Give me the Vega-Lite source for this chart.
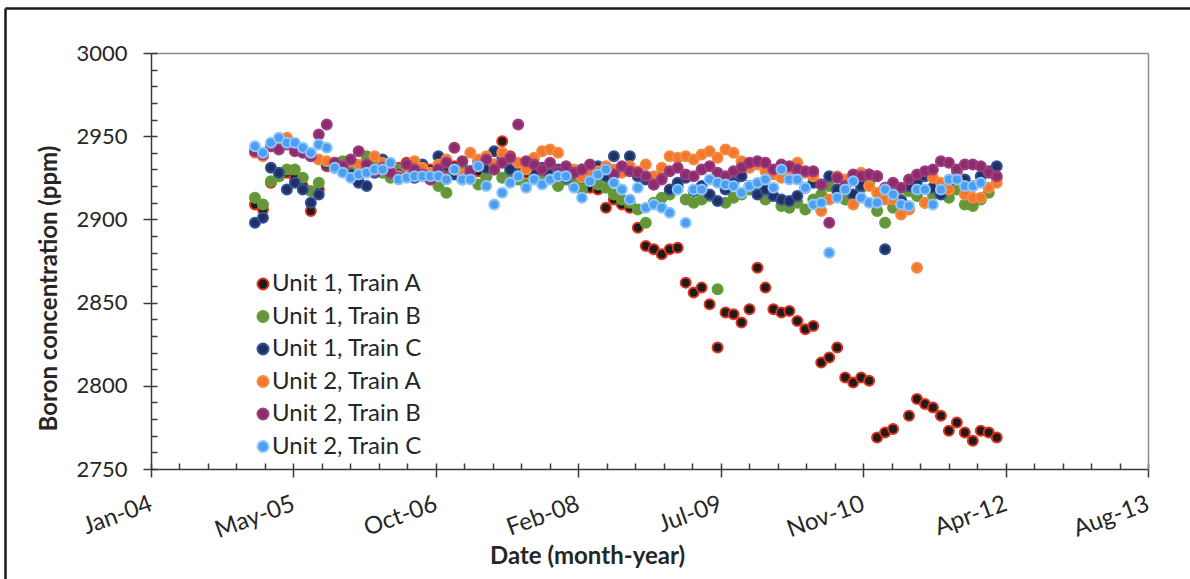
{
  "$schema": "https://vega.github.io/schema/vega-lite/v6.json",
  "width": 1185,
  "height": 571,
  "autosize": {"type": "none"},
  "padding": {"left": 5, "top": 8, "right": 0, "bottom": 0},
  "background": "#ffffff",
  "data": {"values": [
    {"d":"2005-01-13","s":"Unit 1, Train A","v":2909},{"d":"2005-02-10","s":"Unit 1, Train A","v":2906},{"d":"2005-03-10","s":"Unit 1, Train A","v":2922},{"d":"2005-04-07","s":"Unit 1, Train A","v":2926},{"d":"2005-05-05","s":"Unit 1, Train A","v":2928},{"d":"2005-06-02","s":"Unit 1, Train A","v":2925},{"d":"2005-06-30","s":"Unit 1, Train A","v":2920},{"d":"2005-07-28","s":"Unit 1, Train A","v":2905},{"d":"2005-08-25","s":"Unit 1, Train A","v":2918},{"d":"2005-09-22","s":"Unit 1, Train A","v":2932},
    {"d":"2005-10-20","s":"Unit 1, Train A","v":2934},{"d":"2005-11-17","s":"Unit 1, Train A","v":2930},{"d":"2005-12-15","s":"Unit 1, Train A","v":2928},{"d":"2006-01-12","s":"Unit 1, Train A","v":2926},{"d":"2006-02-09","s":"Unit 1, Train A","v":2930},{"d":"2006-03-09","s":"Unit 1, Train A","v":2933},{"d":"2006-04-06","s":"Unit 1, Train A","v":2929},{"d":"2006-05-04","s":"Unit 1, Train A","v":2927},{"d":"2006-06-01","s":"Unit 1, Train A","v":2931},{"d":"2006-06-29","s":"Unit 1, Train A","v":2934},
    {"d":"2006-07-27","s":"Unit 1, Train A","v":2929},{"d":"2006-08-24","s":"Unit 1, Train A","v":2926},{"d":"2006-09-21","s":"Unit 1, Train A","v":2930},{"d":"2006-10-19","s":"Unit 1, Train A","v":2928},{"d":"2006-11-16","s":"Unit 1, Train A","v":2925},{"d":"2006-12-14","s":"Unit 1, Train A","v":2932},{"d":"2007-01-11","s":"Unit 1, Train A","v":2930},{"d":"2007-02-08","s":"Unit 1, Train A","v":2927},{"d":"2007-03-08","s":"Unit 1, Train A","v":2929},{"d":"2007-04-05","s":"Unit 1, Train A","v":2926},
    {"d":"2007-05-03","s":"Unit 1, Train A","v":2933},{"d":"2007-05-31","s":"Unit 1, Train A","v":2947},{"d":"2007-06-28","s":"Unit 1, Train A","v":2938},{"d":"2007-07-26","s":"Unit 1, Train A","v":2930},{"d":"2007-08-23","s":"Unit 1, Train A","v":2928},{"d":"2007-09-20","s":"Unit 1, Train A","v":2925},{"d":"2007-10-18","s":"Unit 1, Train A","v":2929},{"d":"2007-11-15","s":"Unit 1, Train A","v":2931},{"d":"2007-12-13","s":"Unit 1, Train A","v":2927},{"d":"2008-01-10","s":"Unit 1, Train A","v":2924},
    {"d":"2008-02-07","s":"Unit 1, Train A","v":2921},{"d":"2008-03-06","s":"Unit 1, Train A","v":2920},{"d":"2008-04-03","s":"Unit 1, Train A","v":2919},{"d":"2008-05-01","s":"Unit 1, Train A","v":2918},{"d":"2008-05-29","s":"Unit 1, Train A","v":2907},{"d":"2008-06-26","s":"Unit 1, Train A","v":2912},{"d":"2008-07-24","s":"Unit 1, Train A","v":2909},{"d":"2008-08-21","s":"Unit 1, Train A","v":2907},{"d":"2008-09-18","s":"Unit 1, Train A","v":2895},{"d":"2008-10-16","s":"Unit 1, Train A","v":2884},
    {"d":"2008-11-13","s":"Unit 1, Train A","v":2882},{"d":"2008-12-11","s":"Unit 1, Train A","v":2879},{"d":"2009-01-08","s":"Unit 1, Train A","v":2882},{"d":"2009-02-05","s":"Unit 1, Train A","v":2883},{"d":"2009-03-05","s":"Unit 1, Train A","v":2862},{"d":"2009-04-02","s":"Unit 1, Train A","v":2856},{"d":"2009-04-30","s":"Unit 1, Train A","v":2859},{"d":"2009-05-28","s":"Unit 1, Train A","v":2849},{"d":"2009-06-25","s":"Unit 1, Train A","v":2823},{"d":"2009-07-23","s":"Unit 1, Train A","v":2844},
    {"d":"2009-08-20","s":"Unit 1, Train A","v":2843},{"d":"2009-09-17","s":"Unit 1, Train A","v":2838},{"d":"2009-10-15","s":"Unit 1, Train A","v":2846},{"d":"2009-11-12","s":"Unit 1, Train A","v":2871},{"d":"2009-12-10","s":"Unit 1, Train A","v":2859},{"d":"2010-01-07","s":"Unit 1, Train A","v":2846},{"d":"2010-02-04","s":"Unit 1, Train A","v":2844},{"d":"2010-03-04","s":"Unit 1, Train A","v":2845},{"d":"2010-04-01","s":"Unit 1, Train A","v":2839},{"d":"2010-04-29","s":"Unit 1, Train A","v":2834},
    {"d":"2010-05-27","s":"Unit 1, Train A","v":2836},{"d":"2010-06-24","s":"Unit 1, Train A","v":2814},{"d":"2010-07-22","s":"Unit 1, Train A","v":2817},{"d":"2010-08-19","s":"Unit 1, Train A","v":2823},{"d":"2010-09-16","s":"Unit 1, Train A","v":2805},{"d":"2010-10-14","s":"Unit 1, Train A","v":2802},{"d":"2010-11-11","s":"Unit 1, Train A","v":2805},{"d":"2010-12-09","s":"Unit 1, Train A","v":2803},{"d":"2011-01-06","s":"Unit 1, Train A","v":2769},{"d":"2011-02-03","s":"Unit 1, Train A","v":2772},
    {"d":"2011-03-03","s":"Unit 1, Train A","v":2774},{"d":"2011-04-28","s":"Unit 1, Train A","v":2782},{"d":"2011-05-26","s":"Unit 1, Train A","v":2792},{"d":"2011-06-23","s":"Unit 1, Train A","v":2789},{"d":"2011-07-21","s":"Unit 1, Train A","v":2787},{"d":"2011-08-18","s":"Unit 1, Train A","v":2782},{"d":"2011-09-15","s":"Unit 1, Train A","v":2773},{"d":"2011-10-13","s":"Unit 1, Train A","v":2778},{"d":"2011-11-10","s":"Unit 1, Train A","v":2772},
    {"d":"2011-12-08","s":"Unit 1, Train A","v":2767},{"d":"2012-01-05","s":"Unit 1, Train A","v":2773},{"d":"2012-02-02","s":"Unit 1, Train A","v":2772},{"d":"2012-03-01","s":"Unit 1, Train A","v":2769},

    {"d":"2005-01-13","s":"Unit 1, Train B","v":2913},{"d":"2005-02-10","s":"Unit 1, Train B","v":2909},{"d":"2005-03-10","s":"Unit 1, Train B","v":2923},{"d":"2005-04-07","s":"Unit 1, Train B","v":2926},{"d":"2005-05-05","s":"Unit 1, Train B","v":2930},{"d":"2005-06-02","s":"Unit 1, Train B","v":2930},{"d":"2005-06-30","s":"Unit 1, Train B","v":2925},{"d":"2005-07-28","s":"Unit 1, Train B","v":2917},{"d":"2005-08-25","s":"Unit 1, Train B","v":2922},{"d":"2005-09-22","s":"Unit 1, Train B","v":2933},
    {"d":"2005-10-20","s":"Unit 1, Train B","v":2932},{"d":"2005-11-17","s":"Unit 1, Train B","v":2935},{"d":"2005-12-15","s":"Unit 1, Train B","v":2929},{"d":"2006-01-12","s":"Unit 1, Train B","v":2926},{"d":"2006-02-09","s":"Unit 1, Train B","v":2938},{"d":"2006-03-09","s":"Unit 1, Train B","v":2931},{"d":"2006-04-06","s":"Unit 1, Train B","v":2928},{"d":"2006-05-04","s":"Unit 1, Train B","v":2925},{"d":"2006-06-01","s":"Unit 1, Train B","v":2930},{"d":"2006-06-29","s":"Unit 1, Train B","v":2933},
    {"d":"2006-07-27","s":"Unit 1, Train B","v":2927},{"d":"2006-08-24","s":"Unit 1, Train B","v":2930},{"d":"2006-09-21","s":"Unit 1, Train B","v":2924},{"d":"2006-10-19","s":"Unit 1, Train B","v":2920},{"d":"2006-11-16","s":"Unit 1, Train B","v":2916},{"d":"2006-12-14","s":"Unit 1, Train B","v":2928},{"d":"2007-01-11","s":"Unit 1, Train B","v":2931},{"d":"2007-02-08","s":"Unit 1, Train B","v":2925},{"d":"2007-03-08","s":"Unit 1, Train B","v":2921},{"d":"2007-04-05","s":"Unit 1, Train B","v":2926},
    {"d":"2007-05-03","s":"Unit 1, Train B","v":2930},{"d":"2007-05-31","s":"Unit 1, Train B","v":2925},{"d":"2007-06-28","s":"Unit 1, Train B","v":2928},{"d":"2007-07-26","s":"Unit 1, Train B","v":2924},{"d":"2007-08-23","s":"Unit 1, Train B","v":2921},{"d":"2007-09-20","s":"Unit 1, Train B","v":2926},{"d":"2007-10-18","s":"Unit 1, Train B","v":2923},{"d":"2007-11-15","s":"Unit 1, Train B","v":2928},{"d":"2007-12-13","s":"Unit 1, Train B","v":2920},{"d":"2008-01-10","s":"Unit 1, Train B","v":2924},
    {"d":"2008-02-07","s":"Unit 1, Train B","v":2922},{"d":"2008-03-06","s":"Unit 1, Train B","v":2918},{"d":"2008-04-03","s":"Unit 1, Train B","v":2925},{"d":"2008-05-01","s":"Unit 1, Train B","v":2921},{"d":"2008-05-29","s":"Unit 1, Train B","v":2919},{"d":"2008-06-26","s":"Unit 1, Train B","v":2915},{"d":"2008-07-24","s":"Unit 1, Train B","v":2912},{"d":"2008-08-21","s":"Unit 1, Train B","v":2910},{"d":"2008-09-18","s":"Unit 1, Train B","v":2906},{"d":"2008-10-16","s":"Unit 1, Train B","v":2898},
    {"d":"2008-11-13","s":"Unit 1, Train B","v":2910},{"d":"2008-12-11","s":"Unit 1, Train B","v":2913},{"d":"2009-01-08","s":"Unit 1, Train B","v":2915},{"d":"2009-02-05","s":"Unit 1, Train B","v":2920},{"d":"2009-03-05","s":"Unit 1, Train B","v":2912},{"d":"2009-04-02","s":"Unit 1, Train B","v":2910},{"d":"2009-04-30","s":"Unit 1, Train B","v":2912},{"d":"2009-05-28","s":"Unit 1, Train B","v":2914},{"d":"2009-06-25","s":"Unit 1, Train B","v":2858},{"d":"2009-07-23","s":"Unit 1, Train B","v":2910},
    {"d":"2009-08-20","s":"Unit 1, Train B","v":2913},{"d":"2009-09-17","s":"Unit 1, Train B","v":2915},{"d":"2009-10-15","s":"Unit 1, Train B","v":2918},{"d":"2009-11-12","s":"Unit 1, Train B","v":2916},{"d":"2009-12-10","s":"Unit 1, Train B","v":2912},{"d":"2010-01-07","s":"Unit 1, Train B","v":2914},{"d":"2010-02-04","s":"Unit 1, Train B","v":2908},{"d":"2010-03-04","s":"Unit 1, Train B","v":2907},{"d":"2010-04-01","s":"Unit 1, Train B","v":2910},{"d":"2010-04-29","s":"Unit 1, Train B","v":2906},
    {"d":"2010-05-27","s":"Unit 1, Train B","v":2912},{"d":"2010-06-24","s":"Unit 1, Train B","v":2915},{"d":"2010-07-22","s":"Unit 1, Train B","v":2920},{"d":"2010-08-19","s":"Unit 1, Train B","v":2917},{"d":"2010-09-16","s":"Unit 1, Train B","v":2912},{"d":"2010-10-14","s":"Unit 1, Train B","v":2915},{"d":"2010-11-11","s":"Unit 1, Train B","v":2919},{"d":"2010-12-09","s":"Unit 1, Train B","v":2922},{"d":"2011-01-06","s":"Unit 1, Train B","v":2905},{"d":"2011-02-03","s":"Unit 1, Train B","v":2898},
    {"d":"2011-03-03","s":"Unit 1, Train B","v":2907},{"d":"2011-03-31","s":"Unit 1, Train B","v":2912},{"d":"2011-04-28","s":"Unit 1, Train B","v":2917},{"d":"2011-05-26","s":"Unit 1, Train B","v":2914},{"d":"2011-06-23","s":"Unit 1, Train B","v":2910},{"d":"2011-07-21","s":"Unit 1, Train B","v":2915},{"d":"2011-08-18","s":"Unit 1, Train B","v":2920},{"d":"2011-09-15","s":"Unit 1, Train B","v":2913},{"d":"2011-10-13","s":"Unit 1, Train B","v":2918},{"d":"2011-11-10","s":"Unit 1, Train B","v":2909},
    {"d":"2011-12-08","s":"Unit 1, Train B","v":2908},{"d":"2012-01-05","s":"Unit 1, Train B","v":2912},{"d":"2012-02-02","s":"Unit 1, Train B","v":2916},{"d":"2012-03-01","s":"Unit 1, Train B","v":2925},

    {"d":"2005-01-13","s":"Unit 1, Train C","v":2898},{"d":"2005-02-10","s":"Unit 1, Train C","v":2901},{"d":"2005-03-10","s":"Unit 1, Train C","v":2931},{"d":"2005-04-07","s":"Unit 1, Train C","v":2928},{"d":"2005-05-05","s":"Unit 1, Train C","v":2918},{"d":"2005-06-02","s":"Unit 1, Train C","v":2922},{"d":"2005-06-30","s":"Unit 1, Train C","v":2918},{"d":"2005-07-28","s":"Unit 1, Train C","v":2910},{"d":"2005-08-25","s":"Unit 1, Train C","v":2915},{"d":"2005-09-22","s":"Unit 1, Train C","v":2933},
    {"d":"2005-10-20","s":"Unit 1, Train C","v":2931},{"d":"2005-11-17","s":"Unit 1, Train C","v":2929},{"d":"2005-12-15","s":"Unit 1, Train C","v":2927},{"d":"2006-01-12","s":"Unit 1, Train C","v":2922},{"d":"2006-02-09","s":"Unit 1, Train C","v":2920},{"d":"2006-03-09","s":"Unit 1, Train C","v":2928},{"d":"2006-04-06","s":"Unit 1, Train C","v":2936},{"d":"2006-05-04","s":"Unit 1, Train C","v":2932},{"d":"2006-06-01","s":"Unit 1, Train C","v":2927},{"d":"2006-06-29","s":"Unit 1, Train C","v":2930},
    {"d":"2006-07-27","s":"Unit 1, Train C","v":2925},{"d":"2006-08-24","s":"Unit 1, Train C","v":2933},{"d":"2006-09-21","s":"Unit 1, Train C","v":2928},{"d":"2006-10-19","s":"Unit 1, Train C","v":2938},{"d":"2006-11-16","s":"Unit 1, Train C","v":2932},{"d":"2006-12-14","s":"Unit 1, Train C","v":2927},{"d":"2007-01-11","s":"Unit 1, Train C","v":2924},{"d":"2007-02-08","s":"Unit 1, Train C","v":2929},{"d":"2007-03-08","s":"Unit 1, Train C","v":2935},{"d":"2007-04-05","s":"Unit 1, Train C","v":2931},
    {"d":"2007-05-03","s":"Unit 1, Train C","v":2941},{"d":"2007-05-31","s":"Unit 1, Train C","v":2936},{"d":"2007-06-28","s":"Unit 1, Train C","v":2930},{"d":"2007-07-26","s":"Unit 1, Train C","v":2927},{"d":"2007-08-23","s":"Unit 1, Train C","v":2933},{"d":"2007-09-20","s":"Unit 1, Train C","v":2929},{"d":"2007-10-18","s":"Unit 1, Train C","v":2931},{"d":"2007-11-15","s":"Unit 1, Train C","v":2927},{"d":"2007-12-13","s":"Unit 1, Train C","v":2930},{"d":"2008-01-10","s":"Unit 1, Train C","v":2925},
    {"d":"2008-02-07","s":"Unit 1, Train C","v":2928},{"d":"2008-03-06","s":"Unit 1, Train C","v":2930},{"d":"2008-04-03","s":"Unit 1, Train C","v":2930},{"d":"2008-05-01","s":"Unit 1, Train C","v":2932},{"d":"2008-05-29","s":"Unit 1, Train C","v":2926},{"d":"2008-06-26","s":"Unit 1, Train C","v":2938},{"d":"2008-07-24","s":"Unit 1, Train C","v":2929},{"d":"2008-08-21","s":"Unit 1, Train C","v":2938},{"d":"2008-09-18","s":"Unit 1, Train C","v":2926},{"d":"2008-10-16","s":"Unit 1, Train C","v":2924},
    {"d":"2008-11-13","s":"Unit 1, Train C","v":2921},{"d":"2008-12-11","s":"Unit 1, Train C","v":2926},{"d":"2009-01-08","s":"Unit 1, Train C","v":2918},{"d":"2009-02-05","s":"Unit 1, Train C","v":2922},{"d":"2009-03-05","s":"Unit 1, Train C","v":2925},{"d":"2009-04-02","s":"Unit 1, Train C","v":2917},{"d":"2009-04-30","s":"Unit 1, Train C","v":2920},{"d":"2009-05-28","s":"Unit 1, Train C","v":2915},{"d":"2009-06-25","s":"Unit 1, Train C","v":2911},{"d":"2009-07-23","s":"Unit 1, Train C","v":2918},
    {"d":"2009-08-20","s":"Unit 1, Train C","v":2922},{"d":"2009-09-17","s":"Unit 1, Train C","v":2926},{"d":"2009-10-15","s":"Unit 1, Train C","v":2920},{"d":"2009-11-12","s":"Unit 1, Train C","v":2915},{"d":"2009-12-10","s":"Unit 1, Train C","v":2918},{"d":"2010-01-07","s":"Unit 1, Train C","v":2914},{"d":"2010-02-04","s":"Unit 1, Train C","v":2912},{"d":"2010-03-04","s":"Unit 1, Train C","v":2911},{"d":"2010-04-01","s":"Unit 1, Train C","v":2914},{"d":"2010-04-29","s":"Unit 1, Train C","v":2919},
    {"d":"2010-05-27","s":"Unit 1, Train C","v":2922},{"d":"2010-06-24","s":"Unit 1, Train C","v":2921},{"d":"2010-07-22","s":"Unit 1, Train C","v":2926},{"d":"2010-08-19","s":"Unit 1, Train C","v":2918},{"d":"2010-09-16","s":"Unit 1, Train C","v":2923},{"d":"2010-10-14","s":"Unit 1, Train C","v":2915},{"d":"2010-11-11","s":"Unit 1, Train C","v":2920},{"d":"2010-12-09","s":"Unit 1, Train C","v":2927},{"d":"2011-01-06","s":"Unit 1, Train C","v":2926},{"d":"2011-02-03","s":"Unit 1, Train C","v":2882},
    {"d":"2011-03-03","s":"Unit 1, Train C","v":2916},{"d":"2011-03-31","s":"Unit 1, Train C","v":2911},{"d":"2011-04-28","s":"Unit 1, Train C","v":2920},{"d":"2011-05-26","s":"Unit 1, Train C","v":2923},{"d":"2011-06-23","s":"Unit 1, Train C","v":2926},{"d":"2011-07-21","s":"Unit 1, Train C","v":2919},{"d":"2011-08-18","s":"Unit 1, Train C","v":2915},{"d":"2011-09-15","s":"Unit 1, Train C","v":2922},{"d":"2011-10-13","s":"Unit 1, Train C","v":2928},{"d":"2011-11-10","s":"Unit 1, Train C","v":2924},
    {"d":"2011-12-08","s":"Unit 1, Train C","v":2920},{"d":"2012-01-05","s":"Unit 1, Train C","v":2926},{"d":"2012-02-02","s":"Unit 1, Train C","v":2929},{"d":"2012-03-01","s":"Unit 1, Train C","v":2932},

    {"d":"2005-01-13","s":"Unit 2, Train A","v":2940},{"d":"2005-02-10","s":"Unit 2, Train A","v":2938},{"d":"2005-03-10","s":"Unit 2, Train A","v":2944},{"d":"2005-04-07","s":"Unit 2, Train A","v":2948},{"d":"2005-05-05","s":"Unit 2, Train A","v":2949},{"d":"2005-06-02","s":"Unit 2, Train A","v":2944},{"d":"2005-06-30","s":"Unit 2, Train A","v":2941},{"d":"2005-07-28","s":"Unit 2, Train A","v":2939},{"d":"2005-08-25","s":"Unit 2, Train A","v":2936},{"d":"2005-09-22","s":"Unit 2, Train A","v":2935},
    {"d":"2005-10-20","s":"Unit 2, Train A","v":2932},{"d":"2005-11-17","s":"Unit 2, Train A","v":2930},{"d":"2005-12-15","s":"Unit 2, Train A","v":2935},{"d":"2006-01-12","s":"Unit 2, Train A","v":2933},{"d":"2006-02-09","s":"Unit 2, Train A","v":2929},{"d":"2006-03-09","s":"Unit 2, Train A","v":2938},{"d":"2006-04-06","s":"Unit 2, Train A","v":2934},{"d":"2006-05-04","s":"Unit 2, Train A","v":2930},{"d":"2006-06-01","s":"Unit 2, Train A","v":2926},{"d":"2006-06-29","s":"Unit 2, Train A","v":2932},
    {"d":"2006-07-27","s":"Unit 2, Train A","v":2935},{"d":"2006-08-24","s":"Unit 2, Train A","v":2931},{"d":"2006-09-21","s":"Unit 2, Train A","v":2928},{"d":"2006-10-19","s":"Unit 2, Train A","v":2933},{"d":"2006-11-16","s":"Unit 2, Train A","v":2936},{"d":"2006-12-14","s":"Unit 2, Train A","v":2930},{"d":"2007-01-11","s":"Unit 2, Train A","v":2927},{"d":"2007-02-08","s":"Unit 2, Train A","v":2940},{"d":"2007-03-08","s":"Unit 2, Train A","v":2936},{"d":"2007-04-05","s":"Unit 2, Train A","v":2938},
    {"d":"2007-05-03","s":"Unit 2, Train A","v":2933},{"d":"2007-05-31","s":"Unit 2, Train A","v":2940},{"d":"2007-06-28","s":"Unit 2, Train A","v":2937},{"d":"2007-07-26","s":"Unit 2, Train A","v":2934},{"d":"2007-08-23","s":"Unit 2, Train A","v":2930},{"d":"2007-09-20","s":"Unit 2, Train A","v":2937},{"d":"2007-10-18","s":"Unit 2, Train A","v":2941},{"d":"2007-11-15","s":"Unit 2, Train A","v":2942},{"d":"2007-12-13","s":"Unit 2, Train A","v":2940},{"d":"2008-01-10","s":"Unit 2, Train A","v":2928},
    {"d":"2008-02-07","s":"Unit 2, Train A","v":2930},{"d":"2008-03-06","s":"Unit 2, Train A","v":2925},{"d":"2008-04-03","s":"Unit 2, Train A","v":2927},{"d":"2008-05-01","s":"Unit 2, Train A","v":2929},{"d":"2008-05-29","s":"Unit 2, Train A","v":2932},{"d":"2008-06-26","s":"Unit 2, Train A","v":2930},{"d":"2008-07-24","s":"Unit 2, Train A","v":2928},{"d":"2008-08-21","s":"Unit 2, Train A","v":2932},{"d":"2008-09-18","s":"Unit 2, Train A","v":2929},{"d":"2008-10-16","s":"Unit 2, Train A","v":2933},
    {"d":"2008-11-13","s":"Unit 2, Train A","v":2926},{"d":"2008-12-11","s":"Unit 2, Train A","v":2931},{"d":"2009-01-08","s":"Unit 2, Train A","v":2938},{"d":"2009-02-05","s":"Unit 2, Train A","v":2937},{"d":"2009-03-05","s":"Unit 2, Train A","v":2938},{"d":"2009-04-02","s":"Unit 2, Train A","v":2936},{"d":"2009-04-30","s":"Unit 2, Train A","v":2939},{"d":"2009-05-28","s":"Unit 2, Train A","v":2941},{"d":"2009-06-25","s":"Unit 2, Train A","v":2937},{"d":"2009-07-23","s":"Unit 2, Train A","v":2942},
    {"d":"2009-08-20","s":"Unit 2, Train A","v":2940},{"d":"2009-09-17","s":"Unit 2, Train A","v":2935},{"d":"2009-10-15","s":"Unit 2, Train A","v":2931},{"d":"2009-11-12","s":"Unit 2, Train A","v":2933},{"d":"2009-12-10","s":"Unit 2, Train A","v":2929},{"d":"2010-01-07","s":"Unit 2, Train A","v":2927},{"d":"2010-02-04","s":"Unit 2, Train A","v":2925},{"d":"2010-03-04","s":"Unit 2, Train A","v":2929},{"d":"2010-04-01","s":"Unit 2, Train A","v":2934},{"d":"2010-04-29","s":"Unit 2, Train A","v":2928},
    {"d":"2010-05-27","s":"Unit 2, Train A","v":2926},{"d":"2010-06-24","s":"Unit 2, Train A","v":2905},{"d":"2010-07-22","s":"Unit 2, Train A","v":2912},{"d":"2010-08-19","s":"Unit 2, Train A","v":2926},{"d":"2010-09-16","s":"Unit 2, Train A","v":2924},{"d":"2010-10-14","s":"Unit 2, Train A","v":2909},{"d":"2010-11-11","s":"Unit 2, Train A","v":2928},{"d":"2010-12-09","s":"Unit 2, Train A","v":2920},{"d":"2011-01-06","s":"Unit 2, Train A","v":2916},{"d":"2011-02-03","s":"Unit 2, Train A","v":2912},
    {"d":"2011-03-03","s":"Unit 2, Train A","v":2912},{"d":"2011-03-31","s":"Unit 2, Train A","v":2903},{"d":"2011-04-28","s":"Unit 2, Train A","v":2906},{"d":"2011-05-26","s":"Unit 2, Train A","v":2871},{"d":"2011-06-23","s":"Unit 2, Train A","v":2910},{"d":"2011-07-21","s":"Unit 2, Train A","v":2925},{"d":"2011-08-18","s":"Unit 2, Train A","v":2922},{"d":"2011-09-15","s":"Unit 2, Train A","v":2918},{"d":"2011-10-13","s":"Unit 2, Train A","v":2928},{"d":"2011-11-10","s":"Unit 2, Train A","v":2915},
    {"d":"2011-12-08","s":"Unit 2, Train A","v":2913},{"d":"2012-01-05","s":"Unit 2, Train A","v":2913},{"d":"2012-02-02","s":"Unit 2, Train A","v":2919},{"d":"2012-03-01","s":"Unit 2, Train A","v":2922},

    {"d":"2005-01-13","s":"Unit 2, Train B","v":2941},{"d":"2005-02-10","s":"Unit 2, Train B","v":2939},{"d":"2005-03-10","s":"Unit 2, Train B","v":2944},{"d":"2005-04-07","s":"Unit 2, Train B","v":2942},{"d":"2005-05-05","s":"Unit 2, Train B","v":2945},{"d":"2005-06-02","s":"Unit 2, Train B","v":2941},{"d":"2005-06-30","s":"Unit 2, Train B","v":2940},{"d":"2005-07-28","s":"Unit 2, Train B","v":2938},{"d":"2005-08-25","s":"Unit 2, Train B","v":2951},{"d":"2005-09-22","s":"Unit 2, Train B","v":2957},
    {"d":"2005-10-20","s":"Unit 2, Train B","v":2934},{"d":"2005-11-17","s":"Unit 2, Train B","v":2932},{"d":"2005-12-15","s":"Unit 2, Train B","v":2936},{"d":"2006-01-12","s":"Unit 2, Train B","v":2941},{"d":"2006-02-09","s":"Unit 2, Train B","v":2933},{"d":"2006-03-09","s":"Unit 2, Train B","v":2929},{"d":"2006-04-06","s":"Unit 2, Train B","v":2931},{"d":"2006-05-04","s":"Unit 2, Train B","v":2928},{"d":"2006-06-01","s":"Unit 2, Train B","v":2925},{"d":"2006-06-29","s":"Unit 2, Train B","v":2933},
    {"d":"2006-07-27","s":"Unit 2, Train B","v":2930},{"d":"2006-08-24","s":"Unit 2, Train B","v":2927},{"d":"2006-09-21","s":"Unit 2, Train B","v":2924},{"d":"2006-10-19","s":"Unit 2, Train B","v":2930},{"d":"2006-11-16","s":"Unit 2, Train B","v":2934},{"d":"2006-12-14","s":"Unit 2, Train B","v":2943},{"d":"2007-01-11","s":"Unit 2, Train B","v":2935},{"d":"2007-02-08","s":"Unit 2, Train B","v":2929},{"d":"2007-03-08","s":"Unit 2, Train B","v":2932},{"d":"2007-04-05","s":"Unit 2, Train B","v":2936},
    {"d":"2007-05-03","s":"Unit 2, Train B","v":2930},{"d":"2007-05-31","s":"Unit 2, Train B","v":2934},{"d":"2007-06-28","s":"Unit 2, Train B","v":2937},{"d":"2007-07-26","s":"Unit 2, Train B","v":2957},{"d":"2007-08-23","s":"Unit 2, Train B","v":2935},{"d":"2007-09-20","s":"Unit 2, Train B","v":2933},{"d":"2007-10-18","s":"Unit 2, Train B","v":2930},{"d":"2007-11-15","s":"Unit 2, Train B","v":2934},{"d":"2007-12-13","s":"Unit 2, Train B","v":2929},{"d":"2008-01-10","s":"Unit 2, Train B","v":2932},
    {"d":"2008-02-07","s":"Unit 2, Train B","v":2928},{"d":"2008-03-06","s":"Unit 2, Train B","v":2930},{"d":"2008-04-03","s":"Unit 2, Train B","v":2933},{"d":"2008-05-01","s":"Unit 2, Train B","v":2927},{"d":"2008-05-29","s":"Unit 2, Train B","v":2930},{"d":"2008-06-26","s":"Unit 2, Train B","v":2927},{"d":"2008-07-24","s":"Unit 2, Train B","v":2932},{"d":"2008-08-21","s":"Unit 2, Train B","v":2929},{"d":"2008-09-18","s":"Unit 2, Train B","v":2928},{"d":"2008-10-16","s":"Unit 2, Train B","v":2926},
    {"d":"2008-11-13","s":"Unit 2, Train B","v":2921},{"d":"2008-12-11","s":"Unit 2, Train B","v":2924},{"d":"2009-01-08","s":"Unit 2, Train B","v":2929},{"d":"2009-02-05","s":"Unit 2, Train B","v":2931},{"d":"2009-03-05","s":"Unit 2, Train B","v":2927},{"d":"2009-04-02","s":"Unit 2, Train B","v":2926},{"d":"2009-04-30","s":"Unit 2, Train B","v":2930},{"d":"2009-05-28","s":"Unit 2, Train B","v":2932},{"d":"2009-06-25","s":"Unit 2, Train B","v":2928},{"d":"2009-07-23","s":"Unit 2, Train B","v":2926},
    {"d":"2009-08-20","s":"Unit 2, Train B","v":2929},{"d":"2009-09-17","s":"Unit 2, Train B","v":2931},{"d":"2009-10-15","s":"Unit 2, Train B","v":2934},{"d":"2009-11-12","s":"Unit 2, Train B","v":2935},{"d":"2009-12-10","s":"Unit 2, Train B","v":2934},{"d":"2010-01-07","s":"Unit 2, Train B","v":2930},{"d":"2010-02-04","s":"Unit 2, Train B","v":2933},{"d":"2010-03-04","s":"Unit 2, Train B","v":2932},{"d":"2010-04-01","s":"Unit 2, Train B","v":2930},{"d":"2010-04-29","s":"Unit 2, Train B","v":2929},
    {"d":"2010-05-27","s":"Unit 2, Train B","v":2929},{"d":"2010-06-24","s":"Unit 2, Train B","v":2921},{"d":"2010-07-22","s":"Unit 2, Train B","v":2898},{"d":"2010-08-19","s":"Unit 2, Train B","v":2925},{"d":"2010-09-16","s":"Unit 2, Train B","v":2920},{"d":"2010-10-14","s":"Unit 2, Train B","v":2927},{"d":"2010-11-11","s":"Unit 2, Train B","v":2926},{"d":"2010-12-09","s":"Unit 2, Train B","v":2927},{"d":"2011-01-06","s":"Unit 2, Train B","v":2926},{"d":"2011-02-03","s":"Unit 2, Train B","v":2919},
    {"d":"2011-03-03","s":"Unit 2, Train B","v":2922},{"d":"2011-03-31","s":"Unit 2, Train B","v":2919},{"d":"2011-04-28","s":"Unit 2, Train B","v":2924},{"d":"2011-05-26","s":"Unit 2, Train B","v":2927},{"d":"2011-06-23","s":"Unit 2, Train B","v":2929},{"d":"2011-07-21","s":"Unit 2, Train B","v":2930},{"d":"2011-08-18","s":"Unit 2, Train B","v":2935},{"d":"2011-09-15","s":"Unit 2, Train B","v":2934},{"d":"2011-10-13","s":"Unit 2, Train B","v":2930},{"d":"2011-11-10","s":"Unit 2, Train B","v":2933},
    {"d":"2011-12-08","s":"Unit 2, Train B","v":2933},{"d":"2012-01-05","s":"Unit 2, Train B","v":2932},{"d":"2012-02-02","s":"Unit 2, Train B","v":2928},{"d":"2012-03-01","s":"Unit 2, Train B","v":2926},

    {"d":"2005-01-13","s":"Unit 2, Train C","v":2944},{"d":"2005-02-10","s":"Unit 2, Train C","v":2940},{"d":"2005-03-10","s":"Unit 2, Train C","v":2946},{"d":"2005-04-07","s":"Unit 2, Train C","v":2949},{"d":"2005-05-05","s":"Unit 2, Train C","v":2946},{"d":"2005-06-02","s":"Unit 2, Train C","v":2946},{"d":"2005-06-30","s":"Unit 2, Train C","v":2943},{"d":"2005-07-28","s":"Unit 2, Train C","v":2940},{"d":"2005-08-25","s":"Unit 2, Train C","v":2945},{"d":"2005-09-22","s":"Unit 2, Train C","v":2943},
    {"d":"2005-10-20","s":"Unit 2, Train C","v":2931},{"d":"2005-11-17","s":"Unit 2, Train C","v":2928},{"d":"2005-12-15","s":"Unit 2, Train C","v":2925},{"d":"2006-01-12","s":"Unit 2, Train C","v":2927},{"d":"2006-02-09","s":"Unit 2, Train C","v":2928},{"d":"2006-03-09","s":"Unit 2, Train C","v":2930},{"d":"2006-04-06","s":"Unit 2, Train C","v":2930},{"d":"2006-05-04","s":"Unit 2, Train C","v":2934},{"d":"2006-06-01","s":"Unit 2, Train C","v":2924},{"d":"2006-06-29","s":"Unit 2, Train C","v":2925},
    {"d":"2006-07-27","s":"Unit 2, Train C","v":2926},{"d":"2006-08-24","s":"Unit 2, Train C","v":2926},{"d":"2006-09-21","s":"Unit 2, Train C","v":2926},{"d":"2006-10-19","s":"Unit 2, Train C","v":2926},{"d":"2006-11-16","s":"Unit 2, Train C","v":2924},{"d":"2006-12-14","s":"Unit 2, Train C","v":2930},{"d":"2007-01-11","s":"Unit 2, Train C","v":2924},{"d":"2007-02-08","s":"Unit 2, Train C","v":2924},{"d":"2007-03-08","s":"Unit 2, Train C","v":2932},{"d":"2007-04-05","s":"Unit 2, Train C","v":2920},
    {"d":"2007-05-03","s":"Unit 2, Train C","v":2909},{"d":"2007-05-31","s":"Unit 2, Train C","v":2916},{"d":"2007-06-28","s":"Unit 2, Train C","v":2922},{"d":"2007-07-26","s":"Unit 2, Train C","v":2926},{"d":"2007-08-23","s":"Unit 2, Train C","v":2919},{"d":"2007-09-20","s":"Unit 2, Train C","v":2924},{"d":"2007-10-18","s":"Unit 2, Train C","v":2921},{"d":"2007-11-15","s":"Unit 2, Train C","v":2924},{"d":"2007-12-13","s":"Unit 2, Train C","v":2926},{"d":"2008-01-10","s":"Unit 2, Train C","v":2926},
    {"d":"2008-02-07","s":"Unit 2, Train C","v":2919},{"d":"2008-03-06","s":"Unit 2, Train C","v":2913},{"d":"2008-04-03","s":"Unit 2, Train C","v":2923},{"d":"2008-05-01","s":"Unit 2, Train C","v":2927},{"d":"2008-05-29","s":"Unit 2, Train C","v":2930},{"d":"2008-06-26","s":"Unit 2, Train C","v":2922},{"d":"2008-07-24","s":"Unit 2, Train C","v":2918},{"d":"2008-08-21","s":"Unit 2, Train C","v":2912},{"d":"2008-09-18","s":"Unit 2, Train C","v":2919},{"d":"2008-10-16","s":"Unit 2, Train C","v":2907},
    {"d":"2008-11-13","s":"Unit 2, Train C","v":2909},{"d":"2008-12-11","s":"Unit 2, Train C","v":2907},{"d":"2009-01-08","s":"Unit 2, Train C","v":2904},{"d":"2009-02-05","s":"Unit 2, Train C","v":2918},{"d":"2009-03-05","s":"Unit 2, Train C","v":2898},{"d":"2009-04-02","s":"Unit 2, Train C","v":2918},{"d":"2009-04-30","s":"Unit 2, Train C","v":2918},{"d":"2009-05-28","s":"Unit 2, Train C","v":2924},{"d":"2009-06-25","s":"Unit 2, Train C","v":2922},{"d":"2009-07-23","s":"Unit 2, Train C","v":2921},
    {"d":"2009-08-20","s":"Unit 2, Train C","v":2920},{"d":"2009-09-17","s":"Unit 2, Train C","v":2916},{"d":"2009-10-15","s":"Unit 2, Train C","v":2920},{"d":"2009-11-12","s":"Unit 2, Train C","v":2922},{"d":"2009-12-10","s":"Unit 2, Train C","v":2924},{"d":"2010-01-07","s":"Unit 2, Train C","v":2919},{"d":"2010-02-04","s":"Unit 2, Train C","v":2930},{"d":"2010-03-04","s":"Unit 2, Train C","v":2924},{"d":"2010-04-01","s":"Unit 2, Train C","v":2924},{"d":"2010-04-29","s":"Unit 2, Train C","v":2919},
    {"d":"2010-05-27","s":"Unit 2, Train C","v":2909},{"d":"2010-06-24","s":"Unit 2, Train C","v":2910},{"d":"2010-07-22","s":"Unit 2, Train C","v":2880},{"d":"2010-08-19","s":"Unit 2, Train C","v":2913},{"d":"2010-09-16","s":"Unit 2, Train C","v":2918},{"d":"2010-10-14","s":"Unit 2, Train C","v":2923},{"d":"2010-11-11","s":"Unit 2, Train C","v":2913},{"d":"2010-12-09","s":"Unit 2, Train C","v":2910},{"d":"2011-01-06","s":"Unit 2, Train C","v":2910},{"d":"2011-02-03","s":"Unit 2, Train C","v":2918},
    {"d":"2011-03-03","s":"Unit 2, Train C","v":2915},{"d":"2011-03-31","s":"Unit 2, Train C","v":2909},{"d":"2011-04-28","s":"Unit 2, Train C","v":2908},{"d":"2011-05-26","s":"Unit 2, Train C","v":2918},{"d":"2011-06-23","s":"Unit 2, Train C","v":2918},{"d":"2011-07-21","s":"Unit 2, Train C","v":2909},{"d":"2011-08-18","s":"Unit 2, Train C","v":2918},{"d":"2011-09-15","s":"Unit 2, Train C","v":2924},{"d":"2011-10-13","s":"Unit 2, Train C","v":2924},{"d":"2011-11-10","s":"Unit 2, Train C","v":2920},
    {"d":"2011-12-08","s":"Unit 2, Train C","v":2920},{"d":"2012-01-05","s":"Unit 2, Train C","v":2922}
  ]},
  "resolve": {
    "scale": {"x": "independent", "y": "independent"},
    "axis": {"x": "independent", "y": "independent"}
  },
  "layer": [
    {
      "mark": {"type": "point", "opacity": 0},
      "encoding": {
        "x": {"field": "d", "type": "temporal",
          "scale": {"type": "utc", "nice": false, "range": [0, 2400],
            "domain": [{"year": 2004, "month": 1, "date": 14, "utc": true}, {"year": 2013, "month": 8, "date": 14, "utc": true}]},
          "axis": {"orient": "top", "offset": 0, "domainColor": "#1a1a1a", "domainWidth": 2.5, "ticks": false, "labels": false, "grid": false, "title": null}},
        "y": {"field": "v", "type": "quantitative",
          "scale": {"domain": [2750, 3000], "range": [1500, 0], "nice": false, "zero": false},
          "axis": {"orient": "left", "offset": 0, "domainColor": "#1a1a1a", "domainWidth": 2.5, "ticks": false, "labels": false, "grid": false, "title": null}}
      }
    },
    {
      "mark": {"type": "point", "opacity": 0},
      "encoding": {
        "x": {"field": "d", "type": "temporal",
          "scale": {"type": "utc", "nice": false, "range": [146, 1143],
            "domain": [{"year": 2004, "month": 1, "date": 14, "utc": true}, {"year": 2013, "month": 8, "date": 14, "utc": true}]},
          "axis": {"orient": "bottom", "offset": -110, "domain": false, "labels": false, "grid": false, "title": null,
            "tickSize": -6, "tickColor": "#3a3a3a", "tickWidth": 1.5,
            "values": [
              {"year": 2004, "month": 1, "date": 14, "utc": true}, {"year": 2004, "month": 4, "date": 23, "utc": true}, {"year": 2004, "month": 8, "date": 1, "utc": true}, {"year": 2004, "month": 11, "date": 9, "utc": true},
              {"year": 2005, "month": 2, "date": 17, "utc": true}, {"year": 2005, "month": 5, "date": 28, "utc": true}, {"year": 2005, "month": 9, "date": 5, "utc": true}, {"year": 2005, "month": 12, "date": 14, "utc": true},
              {"year": 2006, "month": 3, "date": 24, "utc": true}, {"year": 2006, "month": 7, "date": 2, "utc": true}, {"year": 2006, "month": 10, "date": 10, "utc": true}, {"year": 2007, "month": 1, "date": 18, "utc": true},
              {"year": 2007, "month": 4, "date": 28, "utc": true}, {"year": 2007, "month": 8, "date": 6, "utc": true}, {"year": 2007, "month": 11, "date": 14, "utc": true}, {"year": 2008, "month": 2, "date": 22, "utc": true},
              {"year": 2008, "month": 6, "date": 1, "utc": true}, {"year": 2008, "month": 9, "date": 9, "utc": true}, {"year": 2008, "month": 12, "date": 18, "utc": true}, {"year": 2009, "month": 3, "date": 28, "utc": true},
              {"year": 2009, "month": 7, "date": 6, "utc": true}, {"year": 2009, "month": 10, "date": 14, "utc": true}, {"year": 2010, "month": 1, "date": 22, "utc": true}, {"year": 2010, "month": 5, "date": 2, "utc": true},
              {"year": 2010, "month": 8, "date": 10, "utc": true}, {"year": 2010, "month": 11, "date": 18, "utc": true}, {"year": 2011, "month": 2, "date": 26, "utc": true}, {"year": 2011, "month": 6, "date": 6, "utc": true},
              {"year": 2011, "month": 9, "date": 14, "utc": true}, {"year": 2011, "month": 12, "date": 23, "utc": true}, {"year": 2012, "month": 4, "date": 1, "utc": true}, {"year": 2012, "month": 7, "date": 10, "utc": true},
              {"year": 2012, "month": 10, "date": 18, "utc": true}, {"year": 2013, "month": 1, "date": 26, "utc": true}, {"year": 2013, "month": 5, "date": 6, "utc": true}, {"year": 2013, "month": 8, "date": 14, "utc": true}
            ]}},
        "y": {"field": "v", "type": "quantitative",
          "scale": {"domain": [2750, 3000], "range": [461, 45], "nice": false, "zero": false},
          "axis": {"orient": "left", "offset": -146, "domain": false, "labels": false, "grid": false, "title": null,
            "tickSize": -6, "tickColor": "#3a3a3a", "tickWidth": 1.5,
            "values": [2750, 2760, 2770, 2780, 2790, 2800, 2810, 2820, 2830, 2840, 2850, 2860, 2870, 2880, 2890, 2900, 2910, 2920, 2930, 2940, 2950, 2960, 2970, 2980, 2990, 3000]}}
      }
    },
    {
      "mark": {"type": "point", "opacity": 0},
      "encoding": {
        "x": {"field": "d", "type": "temporal",
          "scale": {"type": "utc", "nice": false, "range": [146, 1143],
            "domain": [{"year": 2004, "month": 1, "date": 14, "utc": true}, {"year": 2013, "month": 8, "date": 14, "utc": true}]},
          "axis": {"orient": "top", "offset": -45, "domainColor": "#8c8c8c", "domainWidth": 1.5, "ticks": false, "labels": false, "grid": false, "title": null}},
        "y": {"field": "v", "type": "quantitative",
          "scale": {"domain": [2750, 3000], "range": [461, 45], "nice": false, "zero": false},
          "axis": {"orient": "right", "offset": -42, "domainColor": "#8c8c8c", "domainWidth": 1.5, "ticks": false, "labels": false, "grid": false, "title": null}}
      }
    },
    {
      "mark": {"type": "circle", "size": 100, "strokeWidth": 2, "opacity": 1},
      "encoding": {
        "x": {"field": "d", "type": "temporal",
          "scale": {"type": "utc", "nice": false, "range": [146, 1143],
            "domain": [{"year": 2004, "month": 1, "date": 14, "utc": true}, {"year": 2013, "month": 8, "date": 14, "utc": true}]},
          "axis": {"orient": "bottom", "offset": -110, "grid": false,
            "values": [
              {"year": 2004, "month": 1, "date": 14, "utc": true}, {"year": 2005, "month": 5, "date": 28, "utc": true}, {"year": 2006, "month": 10, "date": 10, "utc": true}, {"year": 2008, "month": 2, "date": 22, "utc": true},
              {"year": 2009, "month": 7, "date": 6, "utc": true}, {"year": 2010, "month": 11, "date": 18, "utc": true}, {"year": 2012, "month": 4, "date": 1, "utc": true}, {"year": 2013, "month": 8, "date": 14, "utc": true}
            ],
            "labelExpr": "utcFormat(datum.value, '%b-%y')",
            "domainColor": "#3a3a3a", "domainWidth": 1.5, "tickColor": "#3a3a3a", "tickWidth": 1.5, "tickSize": 8,
            "labelFont": "Lato", "labelFontSize": 24, "labelColor": "#262626", "labelAngle": -20, "labelAlign": "right", "labelBaseline": "middle",
            "labelPadding": 26, "labelFlush": false, "labelOverlap": false, "labelBound": false,
            "title": "Date (month-year)", "titleFont": "Lato", "titleFontSize": 24, "titleFontWeight": "bold", "titleColor": "#262626",
            "titleX": 582, "titleY": 94, "titleAlign": "center", "titleBaseline": "alphabetic", "titleAnchor": null}},
        "y": {"field": "v", "type": "quantitative",
          "scale": {"domain": [2750, 3000], "range": [461, 45], "nice": false, "zero": false},
          "axis": {"orient": "left", "offset": -146, "grid": false,
            "values": [2750, 2800, 2850, 2900, 2950, 3000], "format": "d",
            "domainColor": "#3a3a3a", "domainWidth": 1.5, "tickColor": "#3a3a3a", "tickWidth": 1.5, "tickSize": 8,
            "labelFont": "Lato", "labelFontSize": 22, "labelColor": "#262626", "labelPadding": 16, "labelFlush": false, "labelOverlap": false,
            "title": "Boron concentration (ppm)", "titleFont": "Lato", "titleFontSize": 24, "titleFontWeight": "bold", "titleColor": "#262626",
            "titleAngle": -90, "titleX": -102, "titleY": 280, "titleAlign": "center", "titleBaseline": "middle", "titleAnchor": null}},
        "fill": {"field": "s", "type": "nominal",
          "scale": {"domain": ["Unit 1, Train A", "Unit 1, Train B", "Unit 1, Train C", "Unit 2, Train A", "Unit 2, Train B", "Unit 2, Train C"],
            "range": ["#1c1c1c", "#6e8f3e", "#22305e", "#f2782f", "#8b2d6b", "#4d9ef0"]},
          "legend": {"orient": "none", "legendX": 246, "legendY": 264, "title": null, "padding": 0,
            "labelFont": "Lato", "labelFontSize": 24, "labelColor": "#262626", "labelOffset": -3,
            "symbolType": "circle", "symbolSize": 120, "symbolStrokeWidth": 2, "rowPadding": 8.5}},
        "stroke": {"field": "s", "type": "nominal",
          "scale": {"domain": ["Unit 1, Train A", "Unit 1, Train B", "Unit 1, Train C", "Unit 2, Train A", "Unit 2, Train B", "Unit 2, Train C"],
            "range": ["#e0321c", "#5aa332", "#3050a0", "#f58b40", "#a03c80", "#8cc6ff"]},
          "legend": {"orient": "none", "legendX": 246, "legendY": 264, "title": null, "padding": 0,
            "labelFont": "Lato", "labelFontSize": 24, "labelColor": "#262626", "labelOffset": -3,
            "symbolType": "circle", "symbolSize": 120, "symbolStrokeWidth": 2, "rowPadding": 8.5}}
      }
    }
  ],
  "config": {
    "view": {"stroke": null},
    "font": "Lato",
    "axis": {"grid": false}
  }
}
